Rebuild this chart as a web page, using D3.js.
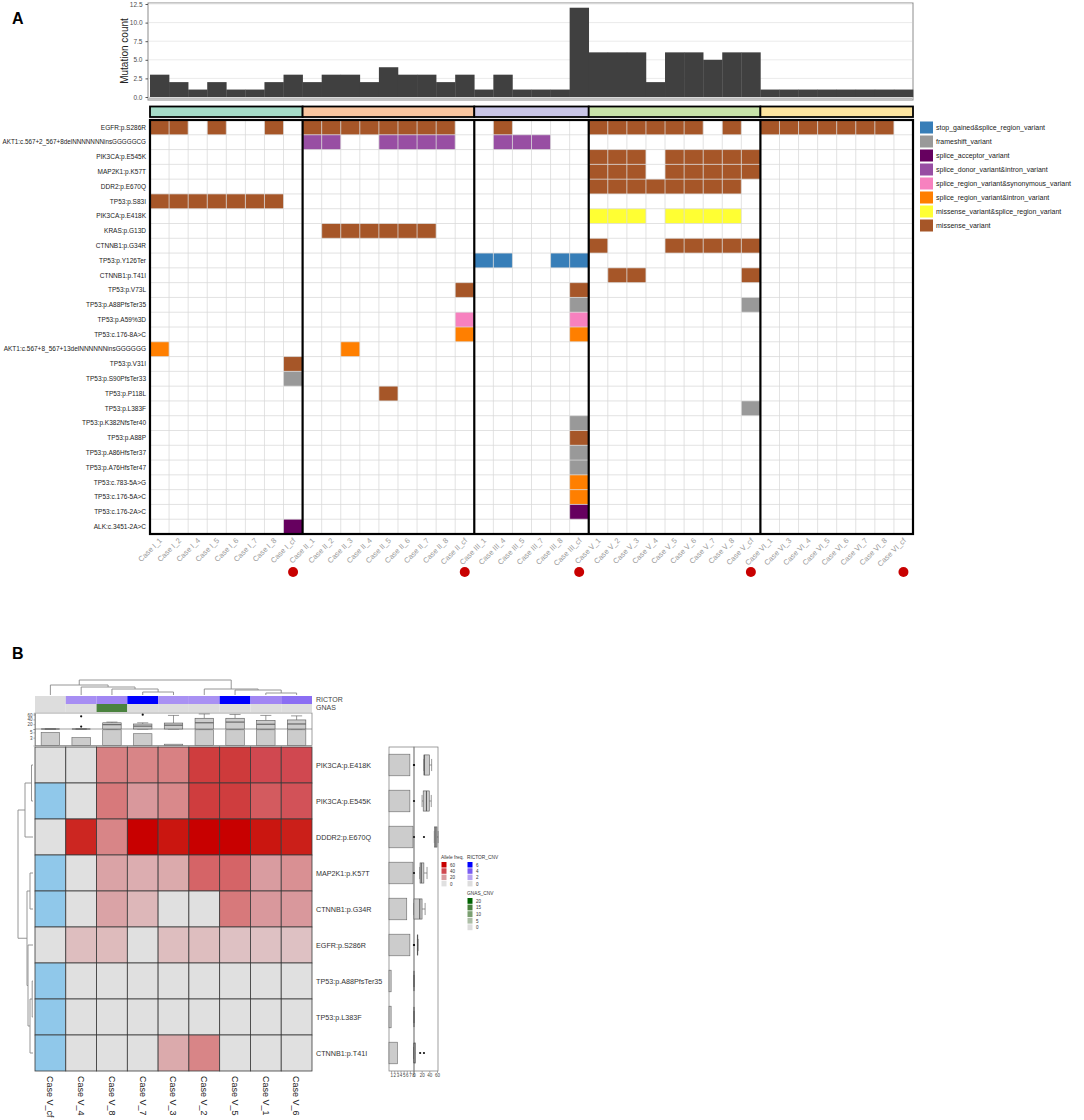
<!DOCTYPE html>
<html>
<head>
<meta charset="utf-8">
<title>Mutation landscape</title>
<script src="https://cdn.jsdelivr.net/npm/d3@7/dist/d3.min.js"></script>
<style>
  body { margin: 0; background: #fff; }
  svg { display: block; font-family: "Liberation Sans", Arial, sans-serif; }
</style>
</head>
<body>
<svg id="figure" width="1084" height="1120"></svg>
<script>
// ---------- panel A data ----------
const samples = [
  "I_1", "I_2", "I_4", "I_5", "I_6", "I_7", "I_8", "I_cf",
  "II_1", "II_2", "II_3", "II_4", "II_5", "II_6", "II_7", "II_8", "II_cf",
  "III_1", "III_4", "III_5", "III_7", "III_8", "III_cf",
  "V_1", "V_2", "V_3", "V_4", "V_5", "V_6", "V_7", "V_8", "V_cf",
  "VI_1", "VI_3", "VI_4", "VI_5", "VI_6", "VI_7", "VI_8", "VI_cf"
];
const groups = ["I", "II", "III", "V", "VI"];
const groupColors = ["#a6dcc8", "#f9c6a0", "#c9c6e7", "#c8e3a9", "#fce49f"];
const mutationCount = [3, 2, 1, 2, 1, 1, 2, 3, 2, 3, 3, 2, 4, 3, 3, 2, 3,
  1, 3, 1, 1, 1, 12, 6, 6, 6, 2, 6, 6, 5, 6, 6, 1, 1, 1, 1, 1, 1, 1, 1];
const countTicks = [0, 2.5, 5, 7.5, 10, 12.5];

const variantTypes = [
  "stop_gained&splice_region_variant",
  "frameshift_variant",
  "splice_acceptor_variant",
  "splice_donor_variant&intron_variant",
  "splice_region_variant&synonymous_variant",
  "splice_region_variant&intron_variant",
  "missense_variant&splice_region_variant",
  "missense_variant"
];
const variantColors = ["#377eb8", "#999999", "#66005f", "#984ea3", "#f781bf", "#ff7f00", "#ffff33", "#a65628"];

const variants = [
  "EGFR:p.S286R", "AKT1:c.567+2_567+8delNNNNNNNinsGGGGGCG", "PIK3CA:p.E545K", "MAP2K1:p.K57T",
  "DDR2:p.E670Q", "TP53:p.S83I", "PIK3CA:p.E418K", "KRAS:p.G13D", "CTNNB1:p.G34R",
  "TP53:p.Y126Ter", "CTNNB1:p.T41I", "TP53:p.V73L", "TP53:p.A88PfsTer35", "TP53:p.A59%3D",
  "TP53:c.176-8A>C", "AKT1:c.567+8_567+13delNNNNNNinsGGGGGG", "TP53:p.V31I", "TP53:p.S90PfsTer33",
  "TP53:p.P118L", "TP53:p.L383F", "TP53:p.K382NfsTer40", "TP53:p.A88P", "TP53:p.A86HfsTer37",
  "TP53:p.A76HfsTer47", "TP53:c.783-5A>G", "TP53:c.176-5A>C", "TP53:c.176-2A>C", "ALK:c.3451-2A>C"
];
const variantType = [7, 3, 7, 7, 7, 7, 6, 7, 7, 0, 7, 7, 1, 4, 5, 5, 7, 1, 7, 1, 1, 7, 1, 1, 5, 5, 2, 2];
const variantSamples = [
  "I_1 I_2 I_5 I_8 II_1 II_2 II_3 II_4 II_5 II_6 II_7 II_8 III_4 V_1 V_2 V_3 V_4 V_5 V_6 V_8 VI_1 VI_3 VI_4 VI_5 VI_6 VI_7 VI_8",
  "II_1 II_2 II_5 II_6 II_7 II_8 III_4 III_5 III_7",
  "V_1 V_2 V_3 V_5 V_6 V_7 V_8 V_cf",
  "V_1 V_2 V_3 V_5 V_6 V_7 V_8 V_cf",
  "V_1 V_2 V_3 V_4 V_5 V_6 V_7 V_8",
  "I_1 I_2 I_4 I_5 I_6 I_7 I_8",
  "V_1 V_2 V_3 V_5 V_6 V_7 V_8",
  "II_2 II_3 II_4 II_5 II_6 II_7",
  "V_1 V_5 V_6 V_7 V_8 V_cf",
  "III_1 III_4 III_8 III_cf",
  "V_2 V_3 V_cf",
  "II_cf III_cf",
  "III_cf V_cf",
  "II_cf III_cf",
  "II_cf III_cf",
  "I_1 II_3",
  "I_cf",
  "I_cf",
  "II_5",
  "V_cf",
  "III_cf",
  "III_cf",
  "III_cf",
  "III_cf",
  "III_cf",
  "III_cf",
  "III_cf",
  "I_cf"
];

// ---------- panel B data ----------
const cases = ["V_cf", "V_4", "V_8", "V_7", "V_3", "V_2", "V_5", "V_1", "V_6"];
const genes = [
  "PIK3CA:p.E418K", "PIK3CA:p.E545K", "DDDR2:p.E670Q", "MAP2K1:p.K57T", "CTNNB1:p.G34R",
  "EGFR:p.S286R", "TP53:p.A88PfsTer35", "TP53:p.L383F", "CTNNB1:p.T41I"
];
// allele frequency (%), null = not available
const alleleFreq = [
  [0, 0, 27, 26, 27, 45, 46, 40, 40],
  [null, 0, 29, 21, 25, 45, 45, 36, 38],
  [0, 53, 26, 60, 57, 63, 61, 57, 55],
  [null, 0, 18, 15, 16, 34, 34, 20, 23],
  [null, 0, 18, 12, 0, 0, 29, 21, 21],
  [0, 10, 11, 0, 10, 10, 9, 9, 9],
  [null, 0, 0, 0, 0, 0, 0, 0, 0],
  [null, 0, 0, 0, 0, 0, 0, 0, 0],
  [null, 0, 0, 0, 16, 26, 0, 0, 0]
];
const rictorCnv = [0, 2.6, 2.8, 6, 2.5, 2.5, 6, 2.8, 3.5];
const gnasCnv = [0, 0, 15, 0, 0, 0, 0, 0, 0];
const caseBar = [5, 3, 6, 4.5, 0.5, 6, 6, 6, 6];
const geneBar = [7, 7, 8, 8, 6, 7, 1, 1, 3];
const colTree = { h: 15, c: [
  { h: 10, c: ["V_cf", { h: 8, c: ["V_4", { h: 6, c: ["V_8", { h: 3, c: ["V_7", "V_3"] }] }] }] },
  { h: 6, c: ["V_2", { h: 5, c: ["V_5", { h: 2, c: ["V_1", "V_6"] }] }] }
] };
const rowTree = { h: 15, c: [
  { h: 8, c: [{ h: 1.5, c: ["PIK3CA:p.E418K", "PIK3CA:p.E545K"] }, "DDDR2:p.E670Q"] },
  { h: 6, c: [
    { h: 3, c: ["MAP2K1:p.K57T", "CTNNB1:p.G34R"] },
    { h: 5, c: ["EGFR:p.S286R", { h: 3, c: [{ h: 0.8, c: ["TP53:p.A88PfsTer35", "TP53:p.L383F"] }, "CTNNB1:p.T41I"] }] }
  ] }
] };
const freqLegend = [60, 40, 20, 0];
const rictorLegend = [6, 4, 2, 0];
const gnasLegend = [20, 15, 10, 5, 0];
const boxTicks = [20, 40, 60];
const caseBarTicks = [3, 5];
const geneBarTicks = [1, 2, 3, 4, 5, 6, 7, 8];
const geneBoxTicks = [0, 20, 40, 60];

const svg = d3.select("#figure");

svg.append("text").attr("x", 12).attr("y", 24)
  .attr("font-size", 16).attr("font-weight", "bold").text("A");
svg.append("text").attr("x", 12).attr("y", 659)
  .attr("font-size", 16).attr("font-weight", "bold").text("B");

// ================= panel A =================
const x = d3.scaleBand().domain(samples).range([150, 913]);
const bw = x.bandwidth();
const yCount = d3.scaleLinear().domain([0, 12.5]).range([97, 4]);
const yRow = d3.scaleBand().domain(variants).range([120, 534]);
const bh = yRow.bandwidth();

// mutation count bars
const topG = svg.append("g");
topG.append("rect")
  .attr("x", 148).attr("y", 3).attr("width", 765).attr("height", 97)
  .attr("fill", "#fff").attr("stroke", "#8c8c8c");
topG.selectAll(".grid")
  .data(countTicks)
  .enter()
  .append("line")
  .attr("x1", 149).attr("x2", 912)
  .attr("y1", d => yCount(d)).attr("y2", d => yCount(d))
  .attr("stroke", "#ebebeb");
topG.selectAll(".bar")
  .data(mutationCount)
  .enter()
  .append("rect")
  .attr("x", (d, i) => x(samples[i]))
  .attr("width", bw + 0.3)
  .attr("y", d => yCount(d))
  .attr("height", d => yCount(0) - yCount(d))
  .attr("fill", "#404040");
topG.append("line").attr("x1", 149).attr("x2", 912).attr("y1", 98.5).attr("y2", 98.5)
  .attr("stroke", "#bdbdbd").attr("stroke-width", 2);
topG.append("g")
  .attr("transform", "translate(148,0)")
  .call(d3.axisLeft(yCount).tickValues(countTicks).tickFormat(d3.format(".1f")).tickSize(2.5))
  .call(g => g.select(".domain").remove())
  .call(g => g.selectAll("line").attr("stroke", "#555"))
  .call(g => g.selectAll("text").attr("font-size", 6.5).attr("fill", "#4d4d4d")
    .attr("font-family", "Liberation Sans, Arial, sans-serif"));
topG.append("text")
  .attr("transform", "translate(128,51) rotate(-90)")
  .attr("text-anchor", "middle").attr("font-size", 10).attr("fill", "#222")
  .text("Mutation count");

// group strip
const groupOf = s => s.split("_")[0];
const stripG = svg.append("g");
groups.forEach((grp, i) => {
  const members = samples.filter(s => groupOf(s) === grp);
  const x0 = x(members[0]);
  const x1 = x(members[members.length - 1]) + bw;
  stripG.append("rect")
    .attr("x", x0).attr("y", 106.5).attr("width", x1 - x0).attr("height", 10.5)
    .attr("fill", groupColors[i]).attr("stroke", "#000").attr("stroke-width", 1.8);
});

// oncoprint grid
const gridG = svg.append("g");
gridG.append("rect")
  .attr("x", 150).attr("y", 120).attr("width", 763).attr("height", 414).attr("fill", "#fff");
const cells = [];
variants.forEach((v, r) => {
  variantSamples[r].split(" ").forEach(s => cells.push({ v, s, t: variantType[r] }));
});
gridG.selectAll(".cell")
  .data(cells)
  .enter()
  .append("rect")
  .attr("x", d => x(d.s))
  .attr("y", d => yRow(d.v))
  .attr("width", bw)
  .attr("height", bh)
  .attr("fill", d => variantColors[d.t]);
gridG.selectAll(".vline")
  .data(samples)
  .enter()
  .append("line")
  .attr("x1", d => x(d)).attr("x2", d => x(d))
  .attr("y1", 120).attr("y2", 534)
  .attr("stroke", "#d8d8d8").attr("stroke-opacity", 0.75);
gridG.selectAll(".hline")
  .data(variants)
  .enter()
  .append("line")
  .attr("x1", 150).attr("x2", 913)
  .attr("y1", d => yRow(d)).attr("y2", d => yRow(d))
  .attr("stroke", "#d8d8d8").attr("stroke-opacity", 0.75);
groups.slice(1).forEach(grp => {
  const first = samples.find(s => groupOf(s) === grp);
  gridG.append("line")
    .attr("x1", x(first)).attr("x2", x(first))
    .attr("y1", 120).attr("y2", 534)
    .attr("stroke", "#000").attr("stroke-width", 2.2);
});
gridG.append("rect")
  .attr("x", 150).attr("y", 120).attr("width", 763).attr("height", 414)
  .attr("fill", "none").attr("stroke", "#000").attr("stroke-width", 2.2);

gridG.selectAll(".rowlab")
  .data(variants)
  .enter()
  .append("text")
  .attr("x", 146)
  .attr("y", d => yRow(d) + bh / 2)
  .attr("dy", "0.35em")
  .attr("text-anchor", "end")
  .attr("font-size", 6.5)
  .attr("fill", "#1a1a1a")
  .text(d => d)
  .each(function () {
    // long HGVS labels are squeezed to fit the margin, like the original
    const w = this.getComputedTextLength();
    if (w > 144) d3.select(this).attr("font-size", 6.5 * 144 / w);
  });

gridG.selectAll(".collab")
  .data(samples)
  .enter()
  .append("text")
  .attr("transform", d => `translate(${x(d) + bw / 2 + 3},541) rotate(-45)`)
  .attr("text-anchor", "end")
  .attr("font-size", 7.5)
  .attr("fill", "#9a9a9a")
  .text(d => "Case " + d);

gridG.selectAll(".cfdot")
  .data(samples.filter(s => s.endsWith("_cf")))
  .enter()
  .append("circle")
  .attr("cx", d => x(d) + bw / 2)
  .attr("cy", 572)
  .attr("r", 5)
  .attr("fill", "#c80000");

// legend A
const legA = svg.append("g").attr("transform", "translate(920,121.5)");
legA.selectAll("rect")
  .data(variantTypes)
  .enter()
  .append("rect")
  .attr("y", (d, i) => i * 14)
  .attr("width", 13).attr("height", 12)
  .attr("fill", (d, i) => variantColors[i]);
legA.selectAll("text")
  .data(variantTypes)
  .enter()
  .append("text")
  .attr("x", 16)
  .attr("y", (d, i) => i * 14 + 6)
  .attr("dy", "0.35em")
  .attr("font-size", 7)
  .attr("fill", "#222")
  .text(d => d);

// ================= panel B =================
const xB = d3.scaleBand().domain(cases).range([35, 312]);
const bwB = xB.bandwidth();
const yB = d3.scaleBand().domain(genes).range([747, 1071]);
const bhB = yB.bandwidth();

const freqColor = d3.scaleLinear().domain([0, 20, 40, 60])
  .range(["#e0e0e0", "#d99ca0", "#d04850", "#c80000"]).interpolate(d3.interpolateLab).clamp(true);
const rictorColor = d3.scaleLinear().domain([0, 2, 4, 6])
  .range(["#dddddd", "#b7a3f3", "#7a5cf3", "#0000ff"]).interpolate(d3.interpolateLab);
const gnasColor = d3.scaleLinear().domain([0, 20])
  .range(["#dddddd", "#006400"]).interpolate(d3.interpolateLab);
const naColor = "#90c8ea";

function dendrogram(g, tree, leafPos, hScale, vertical) {
  const root = d3.hierarchy(tree, d => (typeof d === "string" ? null : d.c));
  root.eachAfter(n => {
    n.pos = n.children ? d3.mean(n.children, c => c.pos) : leafPos(n.data);
    n.ht = n.children ? n.data.h : 0;
  });
  const pt = (p, h) => (vertical ? [p, hScale(h)] : [hScale(h), p]);
  root.each(n => {
    if (!n.children) return;
    const [a, b] = n.children;
    g.append("path")
      .attr("d", d3.line()([pt(a.pos, a.ht), pt(a.pos, n.ht), pt(b.pos, n.ht), pt(b.pos, b.ht)]))
      .attr("fill", "none").attr("stroke", "#8a8a8a").attr("stroke-width", 0.9);
  });
}

function boxStats(vals) {
  const s = vals.slice().sort(d3.ascending);
  const q1 = d3.quantile(s, 0.25), med = d3.quantile(s, 0.5), q3 = d3.quantile(s, 0.75);
  const iqr = q3 - q1;
  const inside = s.filter(v => v >= q1 - 1.5 * iqr && v <= q3 + 1.5 * iqr);
  return { q1, med, q3, lo: d3.min(inside), hi: d3.max(inside),
    out: s.filter(v => v < q1 - 1.5 * iqr || v > q3 + 1.5 * iqr) };
}

// draws a box; vertical = values along y
function drawBox(g, st, center, half, scale, vertical) {
  const seg = (v1, c1, v2, c2, w) => {
    const p = vertical ? [c1, scale(v1), c2, scale(v2)] : [scale(v1), c1, scale(v2), c2];
    g.append("line").attr("x1", p[0]).attr("y1", p[1]).attr("x2", p[2]).attr("y2", p[3])
      .attr("stroke", "#555").attr("stroke-width", w);
  };
  seg(st.lo, center, st.q1, center, 0.6);
  seg(st.q3, center, st.hi, center, 0.6);
  seg(st.lo, center - half * 0.6, st.lo, center + half * 0.6, 0.6);
  seg(st.hi, center - half * 0.6, st.hi, center + half * 0.6, 0.6);
  const a = scale(st.q1), b = scale(st.q3);
  g.append("rect")
    .attr("x", vertical ? center - half : Math.min(a, b))
    .attr("y", vertical ? Math.min(a, b) : center - half)
    .attr("width", vertical ? half * 2 : Math.abs(b - a))
    .attr("height", vertical ? Math.abs(b - a) : half * 2)
    .attr("fill", "#cccccc").attr("stroke", "#555").attr("stroke-width", 0.6);
  seg(st.med, center - half, st.med, center + half, 1);
  st.out.forEach(v => {
    g.append("circle")
      .attr("cx", vertical ? center : scale(v))
      .attr("cy", vertical ? scale(v) : center)
      .attr("r", 1.1).attr("fill", "#111");
  });
}

const hb = svg.append("g");

// column dendrogram
dendrogram(hb, colTree, c => xB(c) + bwB / 2, d3.scaleLinear().domain([0, 15]).range([695, 680]), true);
// row dendrogram
dendrogram(hb, rowTree, r => yB(r) + bhB / 2, d3.scaleLinear().domain([0, 15]).range([33, 18]), false);

// CNV annotations
hb.selectAll(".rictor")
  .data(rictorCnv)
  .enter()
  .append("rect")
  .attr("x", (d, i) => xB(cases[i])).attr("y", 696)
  .attr("width", bwB).attr("height", 8)
  .attr("fill", d => rictorColor(d));
hb.selectAll(".gnas")
  .data(gnasCnv)
  .enter()
  .append("rect")
  .attr("x", (d, i) => xB(cases[i])).attr("y", 704)
  .attr("width", bwB).attr("height", 8)
  .attr("fill", d => gnasColor(d));
hb.append("text").attr("x", 316).attr("y", 700).attr("dy", "0.35em")
  .attr("font-size", 7).attr("fill", "#444").text("RICTOR");
hb.append("text").attr("x", 316).attr("y", 708).attr("dy", "0.35em")
  .attr("font-size", 7).attr("fill", "#444").text("GNAS");

// top annotation: boxplot and barplot per case
const yBoxTop = d3.scaleLinear().domain([0, 65]).range([729, 713.5]);
const yBarTop = d3.scaleLinear().domain([0, 6.3]).range([745.5, 729]);
hb.append("rect").attr("x", 35).attr("y", 713).attr("width", 277).attr("height", 32.5)
  .attr("fill", "none").attr("stroke", "#777").attr("stroke-width", 0.7);
hb.append("line").attr("x1", 35).attr("x2", 312).attr("y1", 729).attr("y2", 729)
  .attr("stroke", "#777").attr("stroke-width", 0.7);
cases.forEach((c, j) => {
  const vals = alleleFreq.map(row => row[j]).filter(v => v !== null);
  drawBox(hb, boxStats(vals), xB(c) + bwB / 2, bwB * 0.3, yBoxTop, true);
});
hb.selectAll(".casebar")
  .data(caseBar)
  .enter()
  .append("rect")
  .attr("x", (d, i) => xB(cases[i]) + bwB * 0.2)
  .attr("width", bwB * 0.6)
  .attr("y", d => yBarTop(d))
  .attr("height", d => yBarTop(0) - yBarTop(d))
  .attr("fill", "#cccccc").attr("stroke", "#666").attr("stroke-width", 0.6);
const tinyAxis = g => g
  .call(s => s.select(".domain").attr("stroke", "#777").attr("stroke-width", 0.6))
  .call(s => s.selectAll("line").attr("stroke", "#777").attr("stroke-width", 0.6))
  .call(s => s.selectAll("text").attr("font-size", 4.5).attr("fill", "#444")
    .attr("font-family", "Liberation Sans, Arial, sans-serif"));
hb.append("g").attr("transform", "translate(35,0)")
  .call(d3.axisLeft(yBoxTop).tickValues(boxTicks).tickFormat(d3.format("d")).tickSize(1.5).tickPadding(1))
  .call(tinyAxis);
hb.append("g").attr("transform", "translate(35,0)")
  .call(d3.axisLeft(yBarTop).tickValues(caseBarTicks).tickFormat(d3.format("d")).tickSize(1.5).tickPadding(1))
  .call(tinyAxis);

// heatmap body
const hmCells = [];
genes.forEach((g, i) => cases.forEach((c, j) => hmCells.push({ g, c, v: alleleFreq[i][j] })));
hb.selectAll(".hm")
  .data(hmCells)
  .enter()
  .append("rect")
  .attr("x", d => xB(d.c))
  .attr("y", d => yB(d.g))
  .attr("width", bwB)
  .attr("height", bhB)
  .attr("fill", d => (d.v === null ? naColor : freqColor(d.v)))
  .attr("stroke", "#3a3a3a")
  .attr("stroke-width", 0.8);

hb.selectAll(".genelab")
  .data(genes)
  .enter()
  .append("text")
  .attr("x", 316)
  .attr("y", d => yB(d) + bhB / 2)
  .attr("dy", "0.35em")
  .attr("font-size", 7.2)
  .attr("fill", "#333")
  .text(d => d);

hb.selectAll(".caselab")
  .data(cases)
  .enter()
  .append("text")
  .attr("transform", d => `translate(${xB(d) + bwB / 2},1076) rotate(90)`)
  .attr("dy", "0.35em")
  .attr("font-size", 9)
  .attr("fill", "#222")
  .text(d => "Case " + d);

// right annotation: bar of counts and boxplot of allele freq per gene
const xBarR = d3.scaleLinear().domain([0, 8]).range([388, 413]);
const xBoxR = d3.scaleLinear().domain([0, 60]).range([414, 437]);
hb.append("rect").attr("x", 389).attr("y", 747).attr("width", 25).attr("height", 324)
  .attr("fill", "none").attr("stroke", "#777").attr("stroke-width", 0.7);
hb.append("rect").attr("x", 414).attr("y", 747).attr("width", 24).attr("height", 324)
  .attr("fill", "none").attr("stroke", "#777").attr("stroke-width", 0.7);
hb.selectAll(".genebar")
  .data(geneBar)
  .enter()
  .append("rect")
  .attr("x", 389)
  .attr("y", (d, i) => yB(genes[i]) + bhB * 0.2)
  .attr("width", d => xBarR(d) - 389)
  .attr("height", bhB * 0.6)
  .attr("fill", "#cccccc").attr("stroke", "#666").attr("stroke-width", 0.6);
genes.forEach((g, i) => {
  const vals = alleleFreq[i].filter(v => v !== null);
  drawBox(hb, boxStats(vals), yB(g) + bhB / 2, bhB * 0.28, xBoxR, false);
});
hb.append("g").attr("transform", "translate(0,1071)")
  .call(d3.axisBottom(xBarR).tickValues(geneBarTicks).tickSize(2).tickPadding(1)).call(tinyAxis)
  .call(s => s.select(".domain").remove());
hb.append("g").attr("transform", "translate(0,1071)")
  .call(d3.axisBottom(xBoxR).tickValues(geneBoxTicks).tickSize(2).tickPadding(1)).call(tinyAxis)
  .call(s => s.select(".domain").remove());

// legends B
function legendBlock(x0, y0, title, items, color, pitch) {
  const g = hb.append("g").attr("transform", `translate(${x0},${y0})`);
  g.append("text").attr("y", 0).attr("font-size", 4.8).attr("fill", "#333").text(title);
  g.selectAll("rect")
    .data(items)
    .enter()
    .append("rect")
    .attr("x", 0.5).attr("y", (d, i) => 3 + i * pitch)
    .attr("width", 5).attr("height", pitch - 0.8)
    .attr("fill", d => color(d));
  g.selectAll(".lab")
    .data(items)
    .enter()
    .append("text")
    .attr("x", 9).attr("y", (d, i) => 3 + i * pitch + pitch / 2)
    .attr("dy", "0.35em").attr("font-size", 4.5).attr("fill", "#333")
    .text(d => d);
}
legendBlock(441, 859, "Allele freq.", freqLegend, freqColor, 6.3);
legendBlock(467, 859, "RICTOR_CNV", rictorLegend, rictorColor, 6.3);
legendBlock(467, 895, "GNAS_CNV", gnasLegend, gnasColor, 6.6);
</script>
</body>
</html>
